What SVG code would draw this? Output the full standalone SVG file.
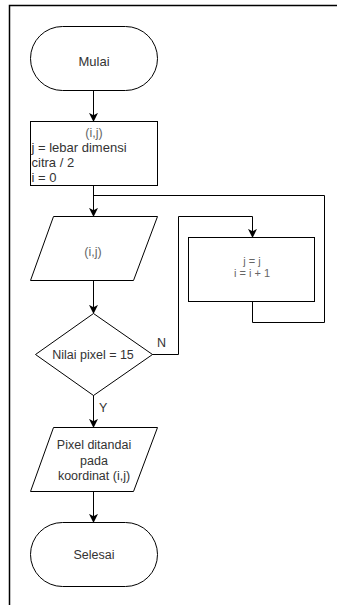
<svg xmlns="http://www.w3.org/2000/svg" width="337" height="605" viewBox="0 0 337 605">
  <style>
    .shape { fill: #ffffff; stroke: #000000; stroke-width: 1; }
    .edge { fill: none; stroke: #000000; stroke-width: 1; }
    text { font-family: "Liberation Sans", Arial, sans-serif; font-size: 12.5px; fill: #333333; }
    .mid { text-anchor: middle; }
    .soft { fill: #666666; }
  </style>
  <defs>
    <marker id="arrow" viewBox="0 0 10 10" refX="9" refY="5" markerWidth="9" markerHeight="9" markerUnits="userSpaceOnUse" orient="auto">
      <path d="M0,0 L10,5 L0,10 L2.5,5 z" fill="#000000"/>
    </marker>
  </defs>

  <rect width="337" height="605" fill="#ffffff"/>
  <!-- page frame -->
  <path d="M9.5,605 V5.5 H337" fill="none" stroke="#000000" stroke-width="1.5"/>

  <g id="connectors">
    <path class="edge" d="M93.5,90 V121" marker-end="url(#arrow)"/>
    <path class="edge" d="M93.5,185 V216" marker-end="url(#arrow)"/>
    <path class="edge" d="M252.5,301 V322.5 H324.5 V195.5 H93.5"/>
    <path class="edge" d="M93.5,280 V313" marker-end="url(#arrow)"/>
    <path class="edge" d="M152,354.5 H178.5 V216.5 H252.5 V237" marker-end="url(#arrow)"/>
    <path class="edge" d="M93.5,395 V427" marker-end="url(#arrow)"/>
    <path class="edge" d="M93.5,491 V522" marker-end="url(#arrow)"/>
    <text x="157" y="347">N</text>
    <text x="99" y="412">Y</text>
  </g>

  <g id="start">
    <rect class="shape" x="30.5" y="26.5" width="127" height="64" rx="32" ry="32"/>
    <text class="mid" x="94" y="66" style="font-size:13px">Mulai</text>
  </g>

  <g id="init">
    <rect class="shape" x="30.5" y="121.5" width="127" height="64"/>
    <text class="mid soft" x="94" y="137">(i,j)</text>
    <text x="31.5" y="152" style="font-size:13px">j = lebar dimensi</text>
    <text x="31.5" y="167" style="font-size:13px">citra / 2</text>
    <text x="31.5" y="182" style="font-size:13px">i = 0</text>
  </g>

  <g id="input">
    <polygon class="shape" points="53.5,216.5 157.5,216.5 133.5,280.5 30.5,280.5"/>
    <text class="mid soft" x="93" y="256">(i,j)</text>
  </g>

  <g id="check">
    <polygon class="shape" points="93.5,313.5 152.5,354.5 93.5,395.5 35.5,354.5"/>
    <text class="mid" x="93" y="359">Nilai pixel = 15</text>
  </g>

  <g id="next">
    <rect class="shape" x="188.5" y="237.5" width="126" height="64"/>
    <text class="mid soft" x="252" y="265" style="font-size:11px">j = j</text>
    <text class="mid soft" x="252" y="277" style="font-size:11px">i = i + 1</text>
  </g>

  <g id="mark">
    <polygon class="shape" points="53.5,427.5 157.5,427.5 133.5,491.5 30.5,491.5"/>
    <text class="mid" x="94" y="449">Pixel ditandai</text>
    <text class="mid" x="94" y="465">pada</text>
    <text class="mid" x="94" y="480">koordinat (i,j)</text>
  </g>

  <g id="end">
    <rect class="shape" x="30.5" y="522.5" width="127" height="64" rx="32" ry="32"/>
    <text class="mid" x="94" y="559">Selesai</text>
  </g>
</svg>
